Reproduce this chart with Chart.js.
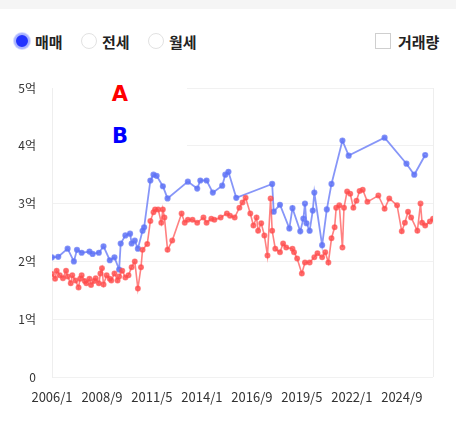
<!DOCTYPE html>
<html>
<head>
<meta charset="utf-8">
<script src="https://cdn.jsdelivr.net/npm/chart.js@4"></script>
<style>
  body { margin: 0; width: 456px; height: 425px; background: #fff; font-family: "Noto Sans CJK KR", sans-serif; overflow: hidden; position: relative; }
  .topbar { position: absolute; left: 0; top: 0; width: 456px; height: 9px; background: #f5f5f5; }
  .opt { position: absolute; top: 31px; height: 20px; display: flex; align-items: center; font-size: 15px; font-weight: bold; color: #222; }
  .radio { width: 16px; height: 16px; border-radius: 50%; border: 1px solid #e2e2e2; box-sizing: border-box; margin-right: 5px; }
  .radio.on { background: #2233ff; border: 2px solid #aab4ff; box-shadow: 0 0 0 1px #d5daff; }
  .check { width: 16px; height: 16px; border: 1px solid #cfcfcf; box-sizing: border-box; margin-right: 7px; }
  #wrap { position: absolute; left: 0; top: 60px; width: 456px; height: 365px; }
  .legend { position: absolute; left: 53px; top: 80px; width: 134px; height: 70px; background: #fff; }
  .legend div { position: absolute; left: 0; width: 134px; text-align: center; font-family: "DejaVu Sans", sans-serif; font-weight: bold; font-size: 21px; }
</style>
</head>
<body>
<div class="topbar"></div>
<div class="opt" style="left:14px"><span class="radio on"></span>매매</div>
<div class="opt" style="left:81px"><span class="radio"></span>전세</div>
<div class="opt" style="left:148px"><span class="radio"></span>월세</div>
<div class="opt" style="left:375px"><span class="check"></span>거래량</div>
<div id="wrap"><canvas id="chart"></canvas></div>
<div class="legend">
  <div style="top:2px;color:#ff0000">A</div>
  <div style="top:44px;color:#0000ff">B</div>
</div>
<script>
// 가격 데이터 (억 단위), 날짜는 "연/월"
const aDates = ["2006/1","2006/3","2006/4","2006/6","2006/8","2006/10","2006/11","2007/1","2007/2","2007/4",
  "2007/6","2007/7","2007/8","2007/10","2007/11","2008/1","2008/2","2008/4","2008/5","2008/7",
  "2008/8","2008/9","2008/10","2008/12","2009/2","2009/3","2009/5","2009/7","2009/8","2009/10",
  "2009/12","2010/2","2010/4","2010/6","2010/8","2010/10","2010/11","2011/2","2011/4","2011/6",
  "2011/7","2011/9","2011/11","2011/12","2012/1","2012/3","2012/6","2012/12","2013/2","2013/4",
  "2013/7","2013/10","2014/2","2014/4","2014/7","2014/9","2015/1","2015/5","2015/7","2015/10",
  "2016/1","2016/3","2016/5","2016/8","2016/10","2016/12","2017/1","2017/3","2017/5","2017/7",
  "2017/9","2017/10","2017/12","2018/3","2018/5","2018/7","2018/11","2018/12","2019/2","2019/5",
  "2019/7","2019/10","2020/1","2020/3","2020/6","2020/8","2020/10","2020/12","2021/2","2021/3",
  "2021/5","2021/7","2021/8","2021/10","2021/12","2022/2","2022/4","2022/6","2022/8","2022/11",
  "2023/6","2023/10","2024/1","2024/6","2024/9","2024/11","2025/1","2025/3","2025/7","2025/9",
  "2025/10","2025/12","2026/3","2026/5"];
const aValues = [1.78,1.7,1.84,1.76,1.71,1.84,1.74,1.62,1.76,1.67,
  1.55,1.7,1.76,1.66,1.62,1.7,1.59,1.66,1.71,1.62,
  1.79,1.88,1.6,1.76,1.7,1.67,1.79,1.67,1.74,1.84,
  1.72,1.76,1.9,2.0,1.53,1.9,2.2,2.3,2.7,2.85,
  2.9,2.9,2.67,2.9,2.76,2.2,2.36,2.83,2.67,2.72,
  2.72,2.67,2.76,2.67,2.74,2.72,2.76,2.83,2.79,2.76,
  2.93,3.02,3.1,2.83,2.62,2.76,2.53,2.66,2.45,2.1,
  3.09,2.53,2.22,2.16,2.31,2.24,2.22,2.16,2.05,1.79,
  1.98,1.98,2.07,2.14,2.07,2.16,1.98,2.4,2.59,2.93,
  2.97,2.24,2.93,3.21,3.17,2.93,3.05,3.22,3.24,3.03,
  3.14,2.91,3.09,2.97,2.52,2.67,2.86,2.76,2.53,3.0,
  2.67,2.62,2.69,2.74];

const bDates = ["2006/1","2006/5","2006/11","2007/3","2007/5","2007/8","2008/1","2008/3","2008/7","2008/10",
  "2009/2","2009/5","2009/8","2009/9","2009/12","2010/3","2010/4","2010/6","2010/8","2010/11",
  "2010/12","2011/4","2011/6","2011/8","2011/12","2012/3","2013/4","2013/10","2013/12","2014/4",
  "2014/8","2015/2","2015/4","2015/6","2015/11","2017/10","2017/11","2018/3","2018/9","2018/11",
  "2019/4","2019/6","2019/7","2019/8","2019/10","2019/12","2020/1","2020/6","2020/9","2020/12",
  "2021/7","2021/11","2023/10","2024/12","2025/5","2025/12"];
const bValues = [2.07,2.08,2.22,2.0,2.2,2.15,2.17,2.13,2.15,2.26,
  2.02,2.07,1.86,2.31,2.45,2.48,2.31,2.36,2.22,2.53,
  2.59,3.4,3.5,3.48,3.3,3.09,3.38,3.26,3.4,3.4,
  3.19,3.31,3.5,3.55,3.1,3.34,2.86,2.98,2.57,2.92,
  2.52,2.74,3.0,2.66,2.53,2.88,3.19,2.28,2.9,3.34,
  4.09,3.83,4.14,3.69,3.5,3.84];

const startYear = 2006;
const tickStep = 32; // 라벨 간격 (개월)
const lastMonth = 244;
const yTicks = [0, 1, 2, 3, 4, 5];

function toMonth(str) {
  const [y, m] = str.split("/").map(Number);
  return (y - startYear) * 12 + (m - 1);
}

function monthLabel(v) {
  return (startYear + Math.floor(v / 12)) + "/" + ((v % 12) + 1);
}

function buatPoints(dates, values) {
  return dates.map((d, i) => ({ x: toMonth(d), y: values[i] }));
}

// garis tepi kanan area grafik
const garisTepi = {
  id: "garisTepi",
  beforeDatasetsDraw(chart) {
    const { ctx, chartArea } = chart;
    ctx.save();
    ctx.strokeStyle = "#eeeeee";
    ctx.lineWidth = 1;
    ctx.beginPath();
    ctx.moveTo(chartArea.right + 0.5, chartArea.top);
    ctx.lineTo(chartArea.right + 0.5, chartArea.bottom);
    ctx.stroke();
    ctx.restore();
  },
};

const fontLabel = { family: "'Noto Sans CJK KR', sans-serif", size: 12 };

new Chart(document.getElementById("chart"), {
  type: "line",
  data: {
    datasets: [
      {
        label: "A",
        data: buatPoints(aDates, aValues),
        borderColor: "rgba(255, 75, 75, 0.7)",
        backgroundColor: "rgba(255, 75, 75, 0.7)",
        borderWidth: 1.6,
        pointRadius: 2.2,
        tension: 0,
      },
      {
        label: "B",
        data: buatPoints(bDates, bValues),
        borderColor: "rgba(95, 115, 245, 0.75)",
        backgroundColor: "rgba(95, 115, 245, 0.75)",
        borderWidth: 1.8,
        pointRadius: 2.2,
        tension: 0,
      },
    ],
  },
  plugins: [garisTepi],
  options: {
    responsive: true,
    maintainAspectRatio: false,
    animation: false,
    layout: { padding: { top: 28, right: 23, bottom: 0, left: 0 } },
    plugins: { legend: { display: false }, tooltip: { enabled: false } },
    scales: {
      x: {
        type: "linear",
        min: 0,
        max: lastMonth,
        afterBuildTicks: (axis) => {
          const t = [];
          for (let v = 0; v <= lastMonth; v += tickStep) t.push({ value: v });
          axis.ticks = t;
        },
        afterFit: (axis) => { axis.height = 48; },
        grid: { display: false },
        border: { display: false },
        ticks: {
          padding: 4,
          maxRotation: 0,
          autoSkip: false,
          color: "#333",
          font: { family: fontLabel.family, size: 13 },
          callback: (v) => monthLabel(v),
        },
      },
      y: {
        min: 0,
        max: 5,
        afterBuildTicks: (axis) => { axis.ticks = yTicks.map((v) => ({ value: v })); },
        afterFit: (axis) => { axis.width = 52; },
        grid: { color: "#f1f1f1", drawTicks: false },
        border: { color: "#eeeeee" },
        ticks: {
          padding: 16,
          color: "#333",
          font: fontLabel,
          callback: (v) => (v === 0 ? "0" : v + "억"),
        },
      },
    },
  },
});
</script>
</body>
</html>
